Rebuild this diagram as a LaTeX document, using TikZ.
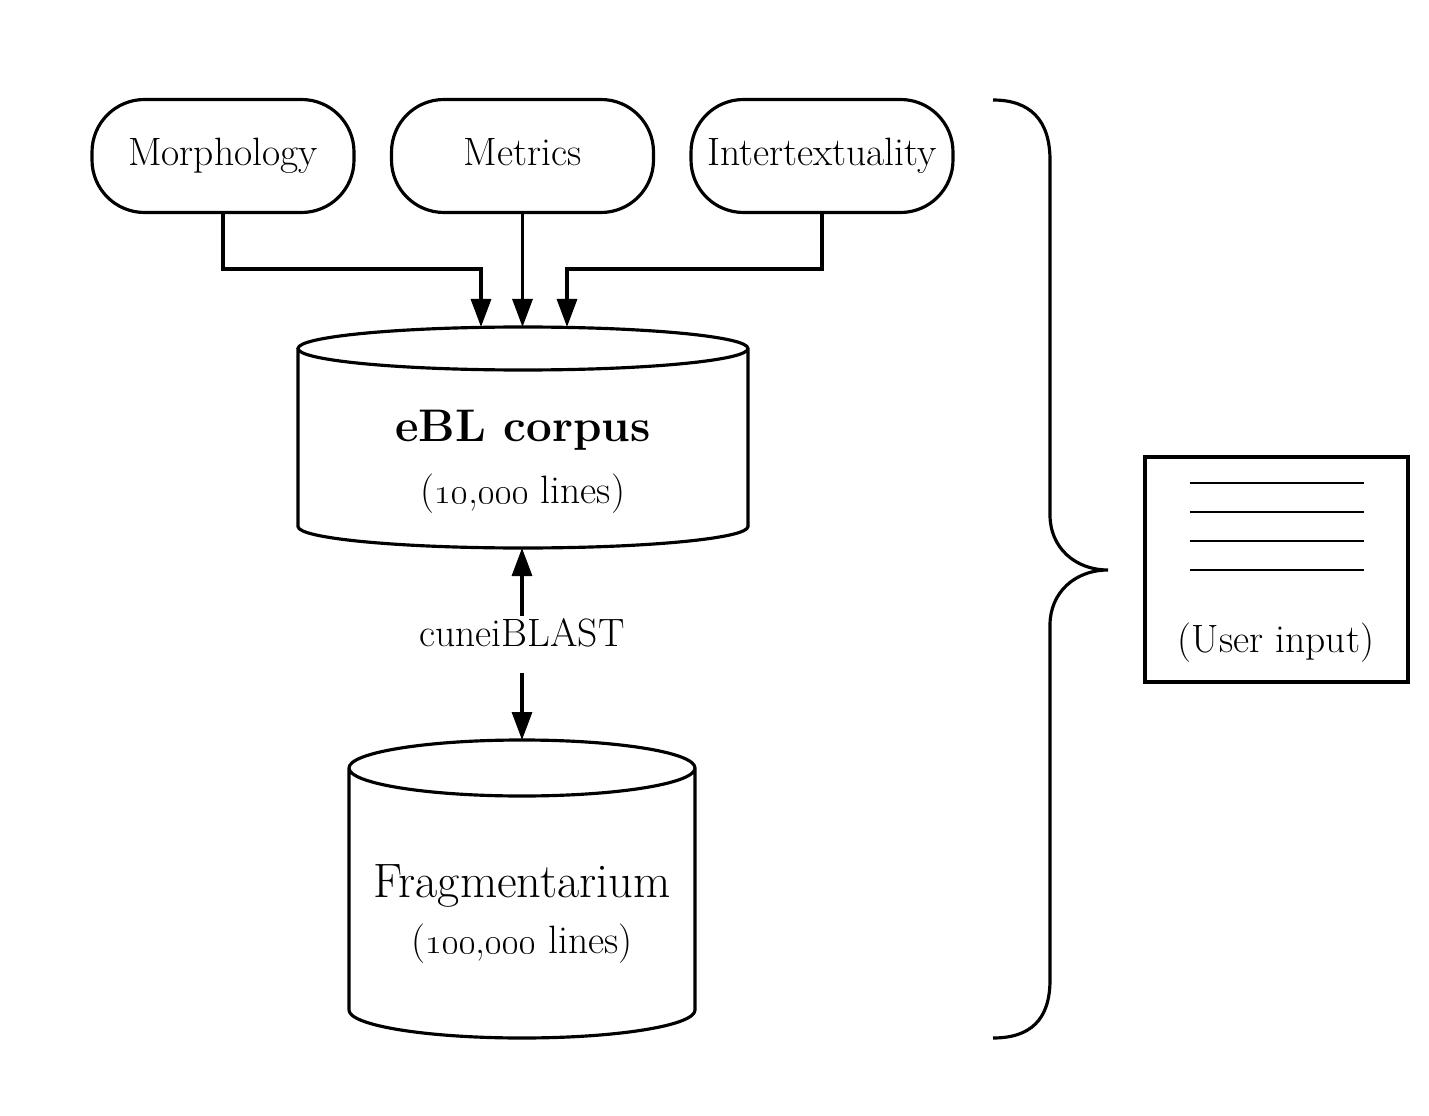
\documentclass[tikz,border=0pt]{standalone}
\usetikzlibrary{arrows.meta}
% outline of a database drum round a named node: node, x radius, y radius
\newcommand{\drawdb}[3]{\draw ([yshift=-#3]#1.north west) -- ([yshift=#3]#1.south west)
	arc[start angle=180, end angle=360, x radius=#2, y radius=#3] -- ([yshift=-#3]#1.north east)
	arc[start angle=0, end angle=360, x radius=#2, y radius=#3];}
\begin{document}
\begin{tikzpicture}
  			[line width=1.8pt,
  			 every node/.style={font=\fontsize{22.5}{27}\selectfont},
  			 module/.style={draw, rounded corners=1.05cm, minimum width=5.24cm, minimum height=2.26cm,
  			 	text height=0.55cm, text depth=0.16cm},
  			 store/.style={inner sep=0pt, outer sep=0pt},
  			 arr/.style={-{Triangle[length=0.56cm,width=0.4cm]}}]
  			\useasboundingbox (0,0) rectangle (28.58,-22.32);
  			% annotation layers
  			\node (n1)[module] at (4.46,-3.12) {Morphology};
  			\node (n2)[module] at (10.45,-3.12) {Metrics};
  			\node (n3)[module] at (16.44,-3.12) {Intertextuality};
  			% databases
  			\node (ebl)[store, minimum width=9cm, minimum height=4.42cm] at (10.46,-8.75) {};
  			\node (frag)[store, minimum width=6.92cm, minimum height=5.96cm] at (10.44,-17.78) {};
  			\drawdb{ebl}{4.5cm}{0.43cm}
  			\drawdb{frag}{3.46cm}{0.56cm}
  			\node (ebltitle)[anchor=base, font=\fontsize{26}{31}\selectfont\bfseries] at (10.46,-8.82) {eBL corpus};
  			\node (eblsize)[anchor=base] at (10.46,-10.06) {(\oldstylenums{10},\oldstylenums{000} lines)};
  			\node (fragtitle)[anchor=base, font=\fontsize{27.5}{33}\selectfont] at (10.44,-17.94) {Fragmentarium};
  			\node (fragsize)[anchor=base] at (10.44,-19.06) {(\oldstylenums{100},\oldstylenums{000} lines)};
  			\node (blast)[text height=0.49cm, text depth=0.4cm, inner sep=0.1cm] at (10.44,-12.89) {cuneiBLAST};
  			% arrows
  			\draw[arr] (n1.south) -- ++(0,-1.1) -| ([xshift=-0.84cm]ebl.north);
  			\draw[arr] (n2.south) -- (n2.south |- ebl.north);
  			\draw[arr] (n3.south) -- ++(0,-1.1) -| ([xshift=0.88cm]ebl.north);
  			\draw[arr] (blast.north) -- (blast.north |- ebl.south);
  			\draw[arr] (blast.south) -- (blast.south |- frag.north);
  			% brace and user input
  			\draw (19.86,-2.0) .. controls (20.6,-2.0) and (21.0,-2.4) .. (21.0,-3.2) -- (21.0,-10.3)
  				.. controls (21.0,-10.95) and (21.5,-11.4) .. (22.16,-11.4)
  				.. controls (21.5,-11.4) and (21.0,-11.85) .. (21.0,-12.5) -- (21.0,-19.6)
  				.. controls (21.0,-20.4) and (20.6,-20.76) .. (19.86,-20.76);
  			\node (user)[draw, store, minimum width=5.26cm, minimum height=4.5cm] at (25.53,-11.39) {};
  			\foreach \k in {0,1,2,3}
  				\draw[line width=0.8pt] ([xshift=-1.74cm, yshift=-0.52cm-\k*0.58cm]user.north) -- ++(3.48,0);
  			\node (userlabel)[anchor=base] at (25.52,-13.04) {(User input)};
	\end{tikzpicture}
\end{document}
